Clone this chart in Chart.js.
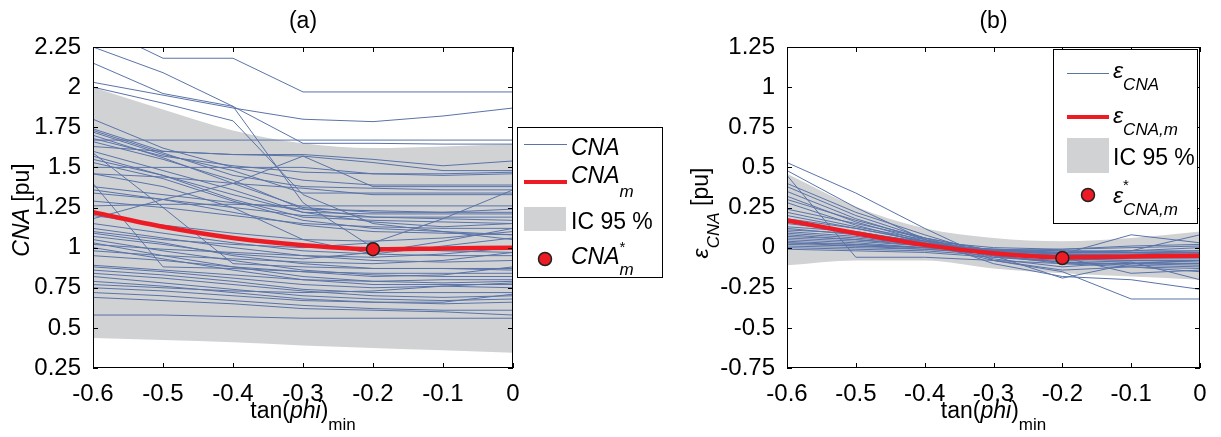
<!DOCTYPE html>
<html>
<head>
<meta charset="utf-8">
<script src="https://cdn.jsdelivr.net/npm/chart.js@4.4.1/dist/chart.umd.min.js"></script>
<style>
  html, body { margin: 0; padding: 0; background: #fff; }
  #wrap { position: relative; width: 1221px; height: 437px; overflow: hidden; }
  canvas { position: absolute; top: 0; }
</style>
</head>
<body>
<div id="wrap">
  <canvas id="chartA" width="690" height="437" style="left:0;width:690px;height:437px"></canvas>
  <canvas id="chartB" width="531" height="437" style="left:690px;width:531px;height:437px"></canvas>
</div>
<script>
// x grid of every curve (tan(phi)min)
const xValues = [-0.6, -0.5, -0.4, -0.3, -0.2, -0.1, 0];
const xTicks = [-0.6, -0.5, -0.4, -0.3, -0.2, -0.1, 0];
const yTicksA = [0.25, 0.5, 0.75, 1, 1.25, 1.5, 1.75, 2, 2.25];
const yTicksB = [-0.75, -0.5, -0.25, 0, 0.25, 0.5, 0.75, 1, 1.25];

// (a) CNA
const cnaLines = [
  [2.25, 2.09, 1.88, 1.28, 1.00, 0.98, 0.97],
  [2.39, 2.18, 2.18, 1.97, 1.97, 1.97, 1.97],
  [2.15, 1.96, 1.88, 1.65, 1.65, 1.645, 1.645],
  [2.03, 1.95, 1.87, 1.80, 1.785, 1.82, 1.87],
  [2.00, 1.90, 1.79, 1.33, 1.15, 1.10, 1.08],
  [1.67, 1.67, 1.67, 1.67, 1.67, 1.67, 1.67],
  [1.80, 1.62, 1.50, 1.42, 1.39, 1.39, 1.39],
  [1.74, 1.60, 1.58, 1.58, 1.55, 1.51, 1.54],
  [1.73, 1.59, 1.45, 1.38, 1.37, 1.36, 1.36],
  [1.72, 1.58, 1.48, 1.34, 1.34, 1.34, 1.34],
  [1.70, 1.56, 1.40, 1.25, 1.22, 1.22, 1.22],
  [1.68, 1.57, 1.51, 1.47, 1.46, 1.46, 1.47],
  [1.66, 1.55, 1.42, 1.24, 1.19, 1.18, 1.17],
  [1.63, 1.60, 1.58, 1.57, 1.53, 1.48, 1.48],
  [1.60, 1.48, 1.36, 1.22, 1.21, 1.21, 1.21],
  [1.57, 1.45, 1.30, 1.19, 1.17, 1.16, 1.15],
  [1.53, 1.43, 1.29, 1.17, 1.12, 1.10, 1.05],
  [1.50, 1.50, 1.50, 1.50, 1.46, 1.45, 1.46],
  [1.46, 1.44, 1.40, 1.37, 1.33, 1.33, 1.33],
  [1.40, 0.88, 0.87, 0.85, 0.84, 0.84, 0.84],
  [1.38, 1.33, 1.28, 1.24, 1.23, 1.22, 1.24],
  [1.34, 1.30, 1.25, 1.20, 1.19, 1.19, 1.19],
  [1.29, 1.25, 1.20, 1.15, 1.13, 1.12, 1.12],
  [1.26, 1.27, 1.27, 1.26, 1.26, 1.26, 1.26],
  [1.18, 1.30, 1.40, 1.57, 1.38, 1.38, 1.38],
  [1.10, 1.05, 1.02, 1.00, 1.03, 1.18, 1.36],
  [1.15, 1.09, 1.03, 0.98, 0.96, 0.95, 0.95],
  [1.12, 1.06, 1.00, 0.95, 0.92, 0.91, 0.92],
  [1.09, 1.03, 0.95, 0.90, 0.87, 0.87, 0.87],
  [1.07, 1.02, 0.96, 0.93, 0.97, 1.04, 1.12],
  [1.05, 0.98, 0.92, 0.86, 0.83, 0.82, 0.82],
  [1.03, 0.95, 0.88, 0.82, 0.79, 0.78, 0.79],
  [1.00, 0.93, 0.86, 0.80, 0.77, 0.77, 0.77],
  [1.46, 1.38, 1.25, 1.05, 0.96, 1.01, 1.06],
  [1.59, 1.25, 0.90, 0.88, 0.87, 0.87, 0.86],
  [0.89, 0.86, 0.83, 0.80, 0.79, 0.80, 0.80],
  [0.88, 0.85, 0.81, 0.77, 0.75, 0.76, 0.78],
  [0.86, 0.83, 0.79, 0.74, 0.72, 0.72, 0.72],
  [0.84, 0.81, 0.77, 0.73, 0.70, 0.69, 0.70],
  [0.82, 0.78, 0.74, 0.70, 0.68, 0.67, 0.68],
  [0.79, 0.76, 0.72, 0.68, 0.66, 0.65, 0.66],
  [0.75, 0.73, 0.70, 0.67, 0.66, 0.66, 0.71],
  [0.72, 0.70, 0.67, 0.64, 0.62, 0.61, 0.61],
  [0.69, 0.67, 0.65, 0.62, 0.61, 0.60, 0.58],
  [0.58, 0.58, 0.57, 0.56, 0.56, 0.56, 0.56],
  [0.95, 0.92, 0.88, 0.85, 0.82, 0.83, 0.88],
  [0.98, 0.95, 0.93, 0.91, 0.90, 0.92, 0.97],
  [1.02, 0.99, 0.97, 0.95, 0.94, 0.96, 1.00],
  [1.20, 1.14, 1.09, 1.05, 1.04, 1.06, 1.10],
  [0.77, 0.75, 0.73, 0.72, 0.73, 0.76, 0.75],
  [1.36, 1.30, 1.22, 1.14, 1.10, 1.09, 1.08],
  [1.55, 1.45, 1.33, 1.22, 1.16, 1.13, 1.15]
];
const cnaMean = [1.22, 1.13, 1.06, 1.015, 0.99, 0.995, 1.0];
const cnaUpper = [2.0, 1.86, 1.73, 1.65, 1.62, 1.63, 1.645];
const cnaLower = [0.437, 0.425, 0.41, 0.39, 0.375, 0.36, 0.345];
const cnaStar = [-0.2, 0.99];

// (b) error on CNA
const errLines = [
  [0.53, 0.34, 0.12, -0.08, -0.15, -0.32, -0.32],
  [0.48, 0.25, 0.05, -0.10, -0.18, -0.20, -0.26],
  [0.45, -0.06, -0.06, -0.08, -0.10, -0.10, -0.10],
  [0.40, 0.22, 0.08, -0.05, -0.10, -0.12, -0.15],
  [0.38, 0.20, 0.06, -0.06, -0.08, -0.09, -0.10],
  [0.35, 0.18, 0.05, -0.03, -0.05, -0.06, -0.06],
  [0.32, 0.16, 0.04, -0.04, -0.07, -0.08, -0.08],
  [0.28, 0.14, 0.03, -0.05, -0.09, -0.10, -0.11],
  [0.24, 0.15, 0.06, -0.02, -0.04, 0.08, 0.03],
  [0.20, 0.12, 0.04, -0.03, -0.05, -0.05, -0.04],
  [0.15, 0.10, 0.03, -0.02, -0.04, -0.04, -0.03],
  [0.12, 0.08, 0.02, -0.02, -0.03, -0.02, -0.02],
  [0.10, 0.07, 0.02, -0.01, -0.02, -0.02, 0.08],
  [0.08, 0.05, 0.01, -0.01, -0.02, -0.03, -0.02],
  [0.06, 0.04, 0.01, -0.02, -0.04, -0.05, -0.05],
  [0.05, 0.03, 0.00, -0.03, -0.05, -0.06, -0.06],
  [0.04, 0.02, 0.00, -0.02, -0.03, -0.03, -0.03],
  [0.03, 0.02, 0.00, -0.02, -0.04, -0.04, -0.04],
  [0.02, 0.01, -0.01, -0.03, -0.05, -0.05, -0.05],
  [0.01, 0.00, -0.01, -0.04, -0.06, -0.07, -0.07],
  [0.00, -0.01, -0.02, -0.05, -0.07, -0.08, -0.09],
  [-0.01, -0.02, -0.03, -0.06, -0.09, -0.11, -0.12],
  [0.09, 0.06, 0.02, -0.08, -0.14, -0.12, -0.13],
  [0.18, 0.12, 0.04, -0.05, -0.19, -0.10, -0.08],
  [0.13, 0.10, 0.03, -0.07, -0.12, -0.09, -0.20],
  [0.07, 0.05, 0.02, -0.02, -0.01, 0.01, 0.02],
  [0.03, 0.01, 0.00, -0.01, -0.03, -0.02, 0.00],
  [0.11, 0.09, 0.04, 0.00, -0.01, 0.00, 0.01],
  [0.22, 0.13, 0.05, -0.04, -0.06, -0.16, -0.14],
  [0.30, 0.17, 0.06, -0.02, -0.04, -0.06, -0.05]
];
const errMean = [0.17, 0.09, 0.017, -0.035, -0.06, -0.055, -0.05];
const errUpper = [0.46, 0.255, 0.12, 0.06, 0.04, 0.06, 0.10];
const errLower = [-0.11, -0.08, -0.08, -0.13, -0.16, -0.18, -0.20];
const errStar = [-0.2, -0.065];

const BLUE = '#5a73a8';
const RED = '#ed1c24';
const GRAY = '#d1d2d4';
const FAM = '"Liberation Sans", Arial, sans-serif';

Chart.defaults.font.family = FAM;
Chart.defaults.color = '#000';

const fmt = v => String(parseFloat(Number(v).toFixed(2)));
const pts = arr => arr.map((v, i) => ({ x: xValues[i], y: v }));

// text with italic / sub / sup pieces
function rich(ctx, parts, x, y, align) {
  let w = 0;
  parts.forEach(p => {
    ctx.font = (p.i ? 'italic ' : '') + (p.s || 23) + 'px ' + FAM;
    p.w = ctx.measureText(p.t).width;
    if (!p.hold) w += p.w;
  });
  let cx = align === 'center' ? x - w / 2 : x;
  ctx.fillStyle = '#000';
  ctx.textAlign = 'left';
  ctx.textBaseline = 'alphabetic';
  parts.forEach(p => {
    ctx.font = (p.i ? 'italic ' : '') + (p.s || 23) + 'px ' + FAM;
    ctx.fillText(p.t, cx, y + (p.dy || 0));
    if (!p.hold) cx += p.w;
  });
}

function frame(chart) {
  const { ctx, chartArea: a, scales } = chart;
  const yt = chart.config.options.yTickList;
  ctx.save();
  ctx.strokeStyle = '#000';
  ctx.lineWidth = 1;
  ctx.strokeRect(a.left + 0.5, a.top + 0.5, a.width - 1, a.height - 1);
  ctx.beginPath();
  xTicks.forEach(t => {
    const px = Math.round(scales.x.getPixelForValue(t)) + 0.5;
    ctx.moveTo(px, a.bottom); ctx.lineTo(px, a.bottom - 5);
    ctx.moveTo(px, a.top); ctx.lineTo(px, a.top + 5);
  });
  yt.forEach(t => {
    const py = Math.round(scales.y.getPixelForValue(t)) + 0.5;
    ctx.moveTo(a.left, py); ctx.lineTo(a.left + 5, py);
    ctx.moveTo(a.right, py); ctx.lineTo(a.right - 5, py);
  });
  ctx.stroke();
  ctx.restore();
}

function xTitle(ctx, cx) {
  rich(ctx, [
    { t: 'tan(' }, { t: 'phi', i: true }, { t: ')' }, { t: 'min', s: 17, dy: 12 }
  ], cx, 418, 'center');
}

function legendBox(ctx, x, y, w, h) {
  ctx.fillStyle = '#fff';
  ctx.fillRect(x, y, w, h);
  ctx.strokeStyle = '#000';
  ctx.lineWidth = 1;
  ctx.strokeRect(x + 0.5, y + 0.5, w, h);
}

function hline(ctx, x1, x2, y, color, lw) {
  ctx.beginPath();
  ctx.strokeStyle = color;
  ctx.lineWidth = lw;
  ctx.moveTo(x1, y); ctx.lineTo(x2, y);
  ctx.stroke();
}

function dot(ctx, x, y) {
  ctx.beginPath();
  ctx.arc(x, y, 6.5, 0, Math.PI * 2);
  ctx.fillStyle = RED;
  ctx.fill();
  ctx.lineWidth = 1.5;
  ctx.strokeStyle = '#222';
  ctx.stroke();
}

const decoA = {
  id: 'decoA',
  afterDatasetsDraw: frame,
  afterDraw(chart) {
    const ctx = chart.ctx;
    ctx.save();
    rich(ctx, [{ t: '(a)' }], 303, 28, 'center');
    xTitle(ctx, 303);
    ctx.save();
    ctx.translate(29, 210);
    ctx.rotate(-Math.PI / 2);
    rich(ctx, [{ t: 'CNA', i: true }, { t: ' [pu]' }], 0, 0, 'center');
    ctx.restore();
    // legend
    legendBox(ctx, 517, 127, 145, 150);
    hline(ctx, 524, 567, 144.5, BLUE, 1);
    rich(ctx, [{ t: 'CNA', i: true }], 571, 155);
    hline(ctx, 524, 567, 182, RED, 4);
    rich(ctx, [{ t: 'CNA', i: true }, { t: 'm', i: true, s: 17, dy: 14 }], 571, 183);
    ctx.fillStyle = GRAY;
    ctx.fillRect(524, 207, 42, 24);
    rich(ctx, [{ t: 'IC 95 %' }], 571, 229);
    dot(ctx, 545, 259);
    rich(ctx, [{ t: 'CNA', i: true }, { t: '*', s: 15, dy: -12, hold: true }, { t: 'm', i: true, s: 17, dy: 11 }], 571, 264);
    ctx.restore();
  }
};

const decoB = {
  id: 'decoB',
  afterDatasetsDraw: frame,
  afterDraw(chart) {
    const ctx = chart.ctx;
    ctx.save();
    rich(ctx, [{ t: '(b)' }], 303.5, 28, 'center');
    xTitle(ctx, 303.5);
    ctx.save();
    ctx.translate(18, 213);
    ctx.rotate(-Math.PI / 2);
    rich(ctx, [{ t: '\u03B5', i: true }, { t: 'CNA', i: true, s: 17, dy: 11 }, { t: ' [pu]' }], 0, 0, 'center');
    ctx.restore();
    // legend
    legendBox(ctx, 363, 49, 144, 174);
    hline(ctx, 377, 419, 73.5, BLUE, 1);
    rich(ctx, [{ t: '\u03B5', i: true }, { t: 'CNA', i: true, s: 17, dy: 12 }], 423, 78);
    hline(ctx, 377, 419, 117, RED, 4);
    rich(ctx, [{ t: '\u03B5', i: true }, { t: 'CNA,m', i: true, s: 17, dy: 12 }], 423, 123);
    ctx.fillStyle = GRAY;
    ctx.fillRect(377, 138, 42, 35);
    rich(ctx, [{ t: 'IC 95 %' }], 423, 165);
    dot(ctx, 398, 195);
    rich(ctx, [{ t: '\u03B5', i: true }, { t: '*', s: 15, dy: -13, hold: true }, { t: 'CNA,m', i: true, s: 17, dy: 12 }], 423, 203);
    ctx.restore();
  }
};

function makeChart(id, lines, mean, upper, lower, star, yMin, yMax, yTicks, yWidth, padRight, deco) {
  const datasets = [
    { data: pts(upper), borderWidth: 0, pointRadius: 0, backgroundColor: GRAY, fill: '+1', cubicInterpolationMode: 'monotone', order: 3 },
    { data: pts(lower), borderWidth: 0, pointRadius: 0, fill: false, cubicInterpolationMode: 'monotone', order: 3 }
  ];
  lines.forEach(l => datasets.push({
    data: pts(l), borderColor: BLUE, borderWidth: 1, pointRadius: 0, fill: false, tension: 0, order: 2
  }));
  datasets.push({ data: pts(mean), borderColor: RED, borderWidth: 4.5, pointRadius: 0, fill: false, cubicInterpolationMode: 'monotone', order: 1 });
  datasets.push({ data: [{ x: star[0], y: star[1] }], showLine: false, pointRadius: 6.5, pointBackgroundColor: RED, pointBorderColor: '#222', pointBorderWidth: 1.5, order: 0 });

  return new Chart(document.getElementById(id), {
    type: 'line',
    data: { datasets },
    options: {
      responsive: false,
      animation: false,
      yTickList: yTicks,
      layout: { padding: { left: 0, top: 47, right: padRight, bottom: 0 } },
      plugins: { legend: { display: false }, tooltip: { enabled: false } },
      scales: {
        x: {
          type: 'linear', min: -0.6, max: 0,
          grid: { display: false }, border: { display: false },
          afterBuildTicks: s => { s.ticks = xTicks.map(v => ({ value: v })); },
          afterFit: s => { s.height = 69; },
          ticks: { font: { size: 24 }, color: '#000', padding: 4, maxRotation: 0, autoSkip: false, callback: v => fmt(v) }
        },
        y: {
          type: 'linear', min: yMin, max: yMax,
          grid: { display: false }, border: { display: false },
          afterBuildTicks: s => { s.ticks = yTicks.map(v => ({ value: v })); },
          afterFit: s => { s.width = yWidth; },
          ticks: { font: { size: 24 }, color: '#000', padding: 4, autoSkip: false, callback: v => fmt(v) }
        }
      }
    },
    plugins: [deco]
  });
}

makeChart('chartA', cnaLines, cnaMean, cnaUpper, cnaLower, cnaStar, 0.25, 2.25, yTicksA, 93, 177, decoA);
makeChart('chartB', errLines, errMean, errUpper, errLower, errStar, -0.75, 1.25, yTicksB, 97, 21, decoB);
</script>
</body>
</html>
